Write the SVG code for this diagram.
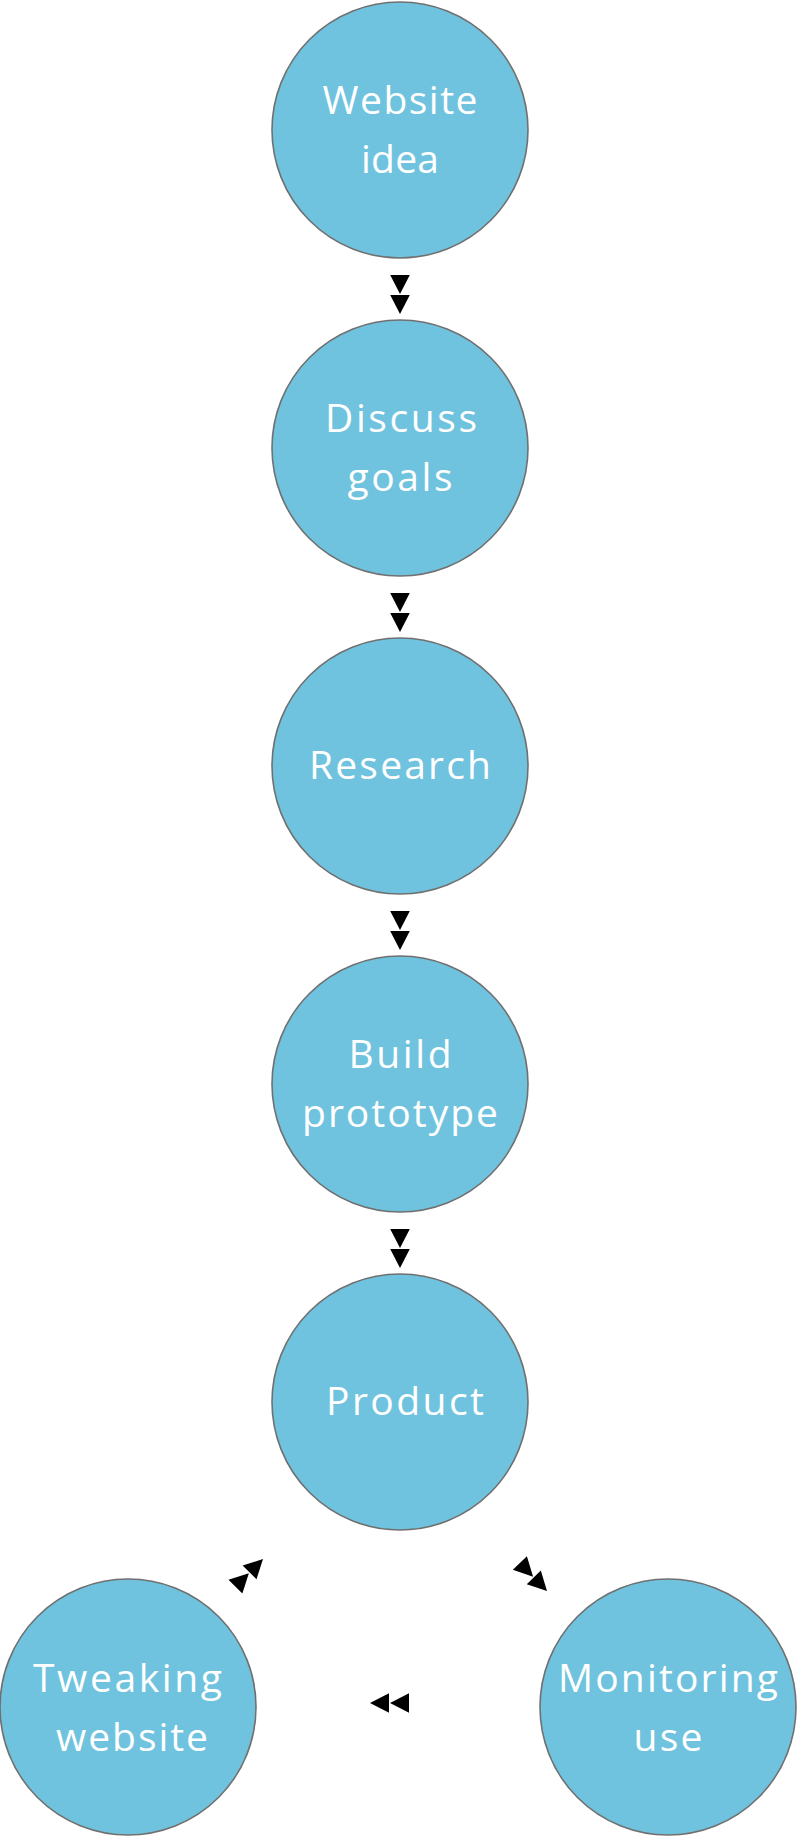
<svg xmlns="http://www.w3.org/2000/svg" width="798" height="1838" viewBox="0 0 798 1838">
  <style>
    .node circle { fill: #70C3DE; stroke: #707070; stroke-width: 1.6; }
    .node text { fill: #FFFFFF; font-family: "Open Sans", "DejaVu Sans", sans-serif; font-size: 39px; text-anchor: middle; }
    .edge { fill: none; stroke: none; marker-end: url(#dbl); }
  </style>
  <defs>
    <marker id="dbl" markerUnits="userSpaceOnUse" markerWidth="50" markerHeight="30" refX="0" refY="0" orient="auto" overflow="visible">
      <path d="M-39,-9.8 L-20,0 L-39,9.8 Z M-19,-9.8 L0,0 L-19,9.8 Z" fill="#000000"/>
    </marker>
  </defs>
  <rect x="0" y="0" width="798" height="1838" fill="#FFFFFF"/>

  <g id="connectors">
    <path class="edge" d="M400,270 L400,314"/>
    <path class="edge" d="M400,588 L400,632"/>
    <path class="edge" d="M400,906 L400,950"/>
    <path class="edge" d="M400,1224 L400,1268"/>
    <path class="edge" d="M516,1559 L547,1591"/>
    <path class="edge" d="M410,1703 L370,1703"/>
    <path class="edge" d="M233,1589 L263,1559"/>
  </g>

  <g id="node-website-idea" class="node">
    <circle cx="400" cy="130" r="128"/>
    <text x="400" y="114" textLength="155" lengthAdjust="spacing">Website</text>
    <text x="400" y="173" textLength="78" lengthAdjust="spacing">idea</text>
  </g>
  <g id="node-discuss-goals" class="node">
    <circle cx="400" cy="448" r="128"/>
    <text x="401" y="432" textLength="152" lengthAdjust="spacing">Discuss</text>
    <text x="400" y="491" textLength="105" lengthAdjust="spacing">goals</text>
  </g>
  <g id="node-research" class="node">
    <circle cx="400" cy="766" r="128"/>
    <text x="400" y="779" textLength="182" lengthAdjust="spacing">Research</text>
  </g>
  <g id="node-build-prototype" class="node">
    <circle cx="400" cy="1084" r="128"/>
    <text x="400" y="1068" textLength="103" lengthAdjust="spacing">Build</text>
    <text x="400" y="1127" textLength="196" lengthAdjust="spacing">prototype</text>
  </g>
  <g id="node-product" class="node">
    <circle cx="400" cy="1402" r="128"/>
    <text x="405" y="1415" textLength="158" lengthAdjust="spacing">Product</text>
  </g>
  <g id="node-tweaking-website" class="node">
    <circle cx="128" cy="1707" r="128"/>
    <text x="127.5" y="1692" textLength="189" lengthAdjust="spacing">Tweaking</text>
    <text x="132" y="1751" textLength="152" lengthAdjust="spacing">website</text>
  </g>
  <g id="node-monitoring-use" class="node">
    <circle cx="668" cy="1707" r="128"/>
    <text x="668" y="1692" textLength="220" lengthAdjust="spacing">Monitoring</text>
    <text x="668" y="1751" textLength="69" lengthAdjust="spacing">use</text>
  </g>
</svg>
